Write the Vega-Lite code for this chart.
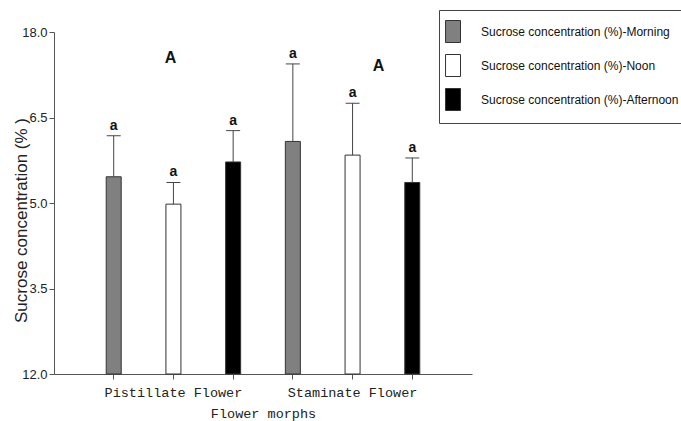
{
  "$schema": "https://vega.github.io/schema/vega-lite/v6.json",
  "width": 418,
  "height": 342,
  "autosize": {"type": "none"},
  "padding": {"left": 54, "top": 32, "right": 209, "bottom": 47},
  "background": "white",
  "config": {"view": {"stroke": null}, "axis": {"grid": false}},
  "datasets": {
    "bars": [
      {"morph": "Pistillate Flower", "time": "Morning", "bar": "Pistillate Flower|Morning", "mean": 5.46, "upper": 6.18, "letter": "a"},
      {"morph": "Pistillate Flower", "time": "Noon", "bar": "Pistillate Flower|Noon", "mean": 4.98, "upper": 5.36, "letter": "a"},
      {"morph": "Pistillate Flower", "time": "Afternoon", "bar": "Pistillate Flower|Afternoon", "mean": 5.72, "upper": 6.27, "letter": "a"},
      {"morph": "Staminate Flower", "time": "Morning", "bar": "Staminate Flower|Morning", "mean": 6.08, "upper": 7.44, "letter": "a"},
      {"morph": "Staminate Flower", "time": "Noon", "bar": "Staminate Flower|Noon", "mean": 5.84, "upper": 6.75, "letter": "a"},
      {"morph": "Staminate Flower", "time": "Afternoon", "bar": "Staminate Flower|Afternoon", "mean": 5.36, "upper": 5.79, "letter": "a"}
    ]
  },
  "encoding": {
    "x": {
      "field": "bar",
      "type": "nominal",
      "scale": {
        "domain": ["Pistillate Flower|Morning", "Pistillate Flower|Noon", "Pistillate Flower|Afternoon", "Staminate Flower|Morning", "Staminate Flower|Noon", "Staminate Flower|Afternoon"],
        "paddingInner": 0.75,
        "paddingOuter": 0.875
      },
      "axis": {
        "labelExpr": "indexof(datum.value, 'Noon') >= 0 ? split(datum.value, '|')[0] : ''",
        "labelAngle": 0,
        "labelOverlap": false,
        "labelBound": false,
        "labelFont": "Liberation Mono",
        "labelFontSize": 13.5,
        "labelColor": "#222",
        "labelPadding": 6,
        "tickSize": 5,
        "tickColor": "#555",
        "domainColor": "#555",
        "title": "Flower morphs",
        "titleFont": "Liberation Mono",
        "titleFontSize": 13.5,
        "titleFontWeight": "normal",
        "titleColor": "#222",
        "titlePadding": 8
      }
    }
  },
  "layer": [
    {
      "data": {"name": "bars"},
      "mark": {"type": "bar", "width": 15, "stroke": "#333", "strokeWidth": 1},
      "encoding": {
        "y": {
          "field": "mean",
          "type": "quantitative",
          "scale": {"domain": [2, 8], "nice": false, "zero": false},
          "axis": {
            "values": [2, 3.5, 5, 6.5, 8],
            "labelExpr": "datum.value == 2 ? '12.0' : datum.value == 8 ? '18.0' : format(datum.value, '.1f')",
            "labelFont": "Liberation Sans",
            "labelFontSize": 13,
            "labelColor": "#222",
            "labelPadding": 2,
            "tickSize": 5,
            "tickColor": "#555",
            "domainColor": "#555",
            "title": "Sucrose concentration (% )",
            "titleFont": "Liberation Sans",
            "titleFontSize": 17,
            "titleFontWeight": "normal",
            "titleColor": "#222",
            "titleBaseline": "middle",
            "titleAlign": "center",
            "titleX": -33,
            "titleY": 188
          }
        },
        "y2": {"datum": 2},
        "color": {
          "field": "time",
          "type": "nominal",
          "scale": {"domain": ["Morning", "Noon", "Afternoon"], "range": ["#808080", "#ffffff", "#000000"]},
          "legend": {
            "orient": "none",
            "legendX": 385,
            "legendY": -22,
            "title": null,
            "fillColor": "white",
            "strokeColor": "#444",
            "padding": 10,
            "rowPadding": 7,
            "symbolType": "M-1.36,-1H0V1H-1.36Z",
            "symbolSize": 484,
            "symbolStrokeColor": "#333",
            "symbolStrokeWidth": 1,
            "symbolOpacity": 1,
            "labelExpr": "'Sucrose concentration (%)-' + datum.label",
            "labelFont": "Liberation Sans",
            "labelFontSize": 12,
            "labelColor": "#111",
            "labelOffset": 9,
            "labelLimit": 300
          }
        }
      }
    },
    {
      "data": {"name": "bars"},
      "mark": {"type": "rule", "color": "#444", "strokeWidth": 1},
      "encoding": {
        "y": {"field": "mean", "type": "quantitative"},
        "y2": {"field": "upper"}
      }
    },
    {
      "data": {"name": "bars"},
      "mark": {"type": "tick", "orient": "horizontal", "size": 14, "thickness": 1, "color": "#444", "opacity": 1},
      "encoding": {
        "y": {"field": "upper", "type": "quantitative"}
      }
    },
    {
      "data": {"name": "bars"},
      "mark": {"type": "text", "font": "Liberation Sans", "fontSize": 14, "fontWeight": "bold", "color": "#111", "baseline": "alphabetic", "dy": -6},
      "encoding": {
        "y": {"field": "upper", "type": "quantitative"},
        "text": {"field": "letter"}
      }
    },
    {
      "data": {"values": [{"bar": "Pistillate Flower|Noon", "y": 7.54, "letter": "A"}]},
      "mark": {"type": "text", "font": "Liberation Sans", "fontSize": 16, "fontWeight": "bold", "color": "#111", "dx": -3},
      "encoding": {
        "y": {"field": "y", "type": "quantitative"},
        "text": {"field": "letter"}
      }
    },
    {
      "data": {"values": [{"bar": "Staminate Flower|Noon", "y": 7.4, "letter": "A"}]},
      "mark": {"type": "text", "font": "Liberation Sans", "fontSize": 16, "fontWeight": "bold", "color": "#111", "dx": 26},
      "encoding": {
        "y": {"field": "y", "type": "quantitative"},
        "text": {"field": "letter"}
      }
    }
  ]
}
